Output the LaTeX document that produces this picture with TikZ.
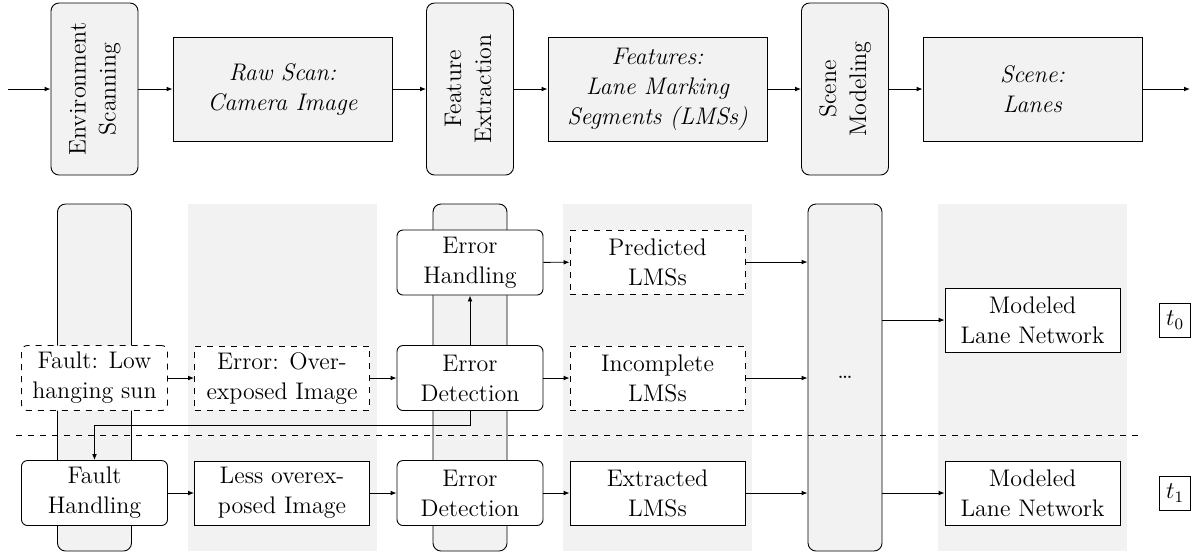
\documentclass[tikz,border=0pt]{standalone}
\usetikzlibrary{arrows.meta,calc}
\definecolor{panel}{gray}{0.95}
\begin{document}
\begin{tikzpicture}[x=0.5pt,y=-0.5pt,
  font=\fontsize{12}{15}\selectfont,
  arr/.style={-{Latex[length=3pt,width=2.4pt]},line width=0.45pt},
  stage/.style={draw,line width=0.45pt,fill=panel,rounded corners=4pt,
    minimum width=43.5pt,minimum height=86pt,inner sep=0pt,align=center},
  artefact/.style={draw,line width=0.45pt,fill=panel,minimum width=109.5pt,
    minimum height=52pt,inner sep=0pt,align=center,font=\fontsize{12}{15}\selectfont\itshape},
  column/.style={draw,line width=0.45pt,fill=panel,rounded corners=4pt,
    minimum width=37pt,minimum height=173.5pt,inner sep=0pt},
  band/.style={fill=panel,minimum width=94.5pt,minimum height=173.5pt,inner sep=0pt},
  proc/.style={draw,line width=0.45pt,fill=white,rounded corners=3pt,
    minimum width=73pt,minimum height=32.5pt,inner sep=0pt,align=center},
  data/.style={draw,line width=0.45pt,fill=white,minimum width=87.5pt,
    minimum height=32pt,inner sep=0pt,align=center},
  maybe/.style={dashed},
  tlabel/.style={draw,line width=0.45pt,minimum width=15.5pt,minimum height=17pt,inner sep=0pt}]
\useasboundingbox (0,0) rectangle (1192,554);

% ---- top row: processing chain ----
\coordinate (in) at (8,89);
\node[stage] (env) at (94.5,89) {\rotatebox{90}{\begin{tabular}{@{}c@{}}Environment\\Scanning\end{tabular}}};
\node[artefact] (raw) at (282.5,89) {Raw Scan:\\Camera Image};
\node[stage] (feat) at (470,89) {\rotatebox{90}{\begin{tabular}{@{}c@{}}Feature\\Extraction\end{tabular}}};
\node[artefact] (feats) at (657.5,89) {Features:\\Lane Marking\\Segments (LMSs)};
\node[stage] (scm) at (845,89) {\rotatebox{90}{\begin{tabular}{@{}c@{}}Scene\\Modeling\end{tabular}}};
\node[artefact] (scene) at (1032.5,89) {Scene:\\Lanes};
\coordinate (out) at (1190,89);

\draw[arr] (in) -- (env);
\draw[arr] (env) -- (raw);
\draw[arr] (raw) -- (feat);
\draw[arr] (feat) -- (feats);
\draw[arr] (feats) -- (scm);
\draw[arr] (scm) -- (scene);
\draw[arr] (scene) -- (out);

% ---- bottom: columns behind the two time steps ----
\node[column] (c1) at (94.5,377.5) {};
\node[band]   (c2) at (282.5,377.5) {};
\node[column] (c3) at (470,377.5) {};
\node[band]   (c4) at (657.5,377.5) {};
\node[column] (c5) at (845,377.5) {\dots};
\node[band]   (c6) at (1032.5,377.5) {};

% time step separator
\coordinate (sepL) at (16,435);
\coordinate (sepR) at (1140,435);
\draw[dashed,line width=0.45pt] (sepL) -- (sepR);

% ---- time step t0 ----
\node[proc,maybe] (fault) at (94.5,378) {Fault: Low\\hanging sun};
\node[data,maybe] (err) at (282,378) {Error: Over-\\exposed Image};
\node[proc] (ed0) at (470,378) {Error\\Detection};
\node[proc] (eh) at (470,262.5) {Error\\Handling};
\node[data,maybe] (pred) at (657.5,262) {Predicted\\LMSs};
\node[data,maybe] (inc) at (657.5,378) {Incomplete\\LMSs};
\node[data] (mod0) at (1032.5,320) {Modeled\\Lane Network};
\node[tlabel,anchor=east] (t0) at (1191,320) {$t_0$};

% ---- time step t1 ----
\node[proc] (fh) at (94.5,493) {Fault\\Handling};
\node[data] (less) at (282,493) {Less overex-\\posed Image};
\node[proc] (ed1) at (470,493) {Error\\Detection};
\node[data] (ext) at (657.5,493) {Extracted\\LMSs};
\node[data] (mod1) at (1032.5,493) {Modeled\\Lane Network};
\node[tlabel,anchor=east] (t1) at (1191,493) {$t_1$};

% ---- connectors ----
\draw[arr] (fault) -- (err);
\draw[arr] (err) -- (ed0);
\draw[arr] (ed0) -- (inc);
\draw[arr] (ed0) -- (eh);
\draw[arr] (eh) -- (pred);
\draw[arr] (ed0.south) -- ++(0,14) -| (fh.north);
\draw[arr] (fh) -- (less);
\draw[arr] (less) -- (ed1);
\draw[arr] (ed1) -- (ext);
\draw[arr] (pred.east) -- (pred.east -| c5.west);
\draw[arr] (inc.east) -- (inc.east -| c5.west);
\draw[arr] (ext.east) -- (ext.east -| c5.west);
\draw[arr] (mod0.west -| c5.east) -- (mod0.west);
\draw[arr] (mod1.west -| c5.east) -- (mod1.west);
\end{tikzpicture}
\end{document}
